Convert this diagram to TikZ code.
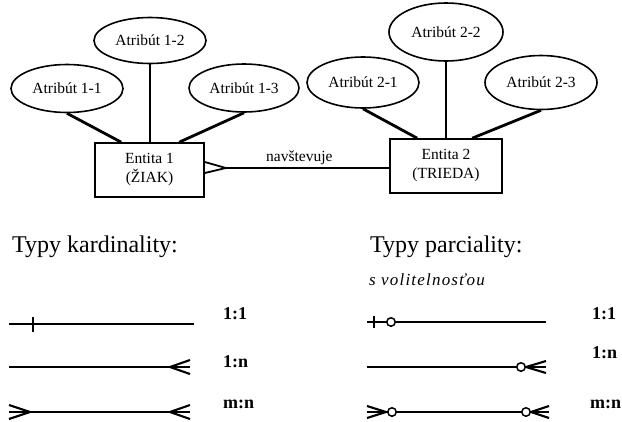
\documentclass[tikz,border=0pt]{standalone}
\usepackage{fontspec}
\setmainfont{Liberation Serif}
\usetikzlibrary{calc,shapes.geometric}
\begin{document}
\begin{tikzpicture}[x=1pt,y=-1pt,
  attr/.style={draw, ellipse, line width=1.6pt, minimum width=112pt, minimum height=48pt, inner sep=0pt, font=\fontsize{15.5}{15.5}\selectfont},
  ent/.style={draw, rectangle, line width=1.6pt, minimum width=109pt, minimum height=54pt, inner sep=0pt, align=center, font=\fontsize{15.5}{19}\selectfont},
  link/.style={line width=2.8pt},
  rel/.style={line width=1.8pt},
  leg/.style={line width=2.1pt},
  circ/.style={circle, draw, fill=white, line width=1.5pt, minimum size=8.5pt, inner sep=0pt},
  head/.style={anchor=base west, inner sep=0pt, font=\fontsize{24}{24}\selectfont},
  lbl/.style={anchor=base west, inner sep=0pt, font=\fontsize{18}{18}\selectfont\bfseries}]
\useasboundingbox (0,0) rectangle (622,421);

% entities
\node[ent] (e1) at (149.5,170) {Entita 1\\(ŽIAK)};
\node[ent, minimum width=112pt] (e2) at (446,166) {Entita 2\\(TRIEDA)};

% attributes
\node[attr] (a11) at (67,88.5) {Atribút 1-1};
\node[attr, minimum height=46pt] (a12) at (150,40.5) {Atribút 1-2};
\node[attr, minimum width=110pt] (a13) at (244,88) {Atribút 1-3};
\node[attr, minimum height=51pt] (a21) at (363,82.5) {Atribút 2-1};
\node[attr, minimum width=114pt, minimum height=58pt] (a22) at (446,32) {Atribút 2-2};
\node[attr, minimum height=54pt] (a23) at (541,82.5) {Atribút 2-3};

\draw[link] (a11.south) -- ($(e1.north west)+(27,0)$);
\draw[link] (a12.south) -- (e1.north -| a12.south);
\draw[link] (a13.south) -- ($(e1.north west)+(85,0)$);
\draw[link] (a21.south) -- ($(e2.north west)+(28,0)$);
\draw[link] (a22.south) -- (e2.north -| a22.south);
\draw[link] (a23.south) -- ($(e2.north west)+(83,0)$);

% relationship
\coordinate (ce) at ($(e1.east)+(0,-2)$);
\coordinate (cf) at ($(ce)+(21,0)$);
\draw[rel] (cf) -- (e2.west |- cf) node[pos=0.45, above=1pt, font=\fontsize{15.5}{15.5}\selectfont, inner sep=1pt] (nav) {navštevuje};
\draw[rel] ($(ce)+(0,-6)$) -- (cf) -- ($(ce)+(0,5)$);

% headings
\node[head] (h1) at (12,252) {Typy kardinality:};
\node[head] (h2) at (370,252) {Typy parciality:};
\node[anchor=base west, inner sep=0pt, font=\fontsize{17}{17}\selectfont\itshape\addfontfeature{LetterSpace=7}] (sv) at (369,285) {s volitelnosťou};

% legend left
\draw[leg] (9,324) -- (194,324);
\draw[leg] (33,317) -- (33,332);
\draw[leg] (9,367) -- (190,367);
\draw[leg] (190,360) -- (170,367) -- (190,374);
\draw[leg] (9,412) -- (190,412);
\draw[leg] (9,405) -- (30,412) -- (9,419);
\draw[leg] (190,405) -- (170,412) -- (190,419);

\node[lbl] (l11) at (223,319) {1:1};
\node[lbl] (l1n) at (223,367) {1:n};
\node[lbl] (lmn) at (223,408) {m:n};

% legend right
\draw[leg] (367,322) -- (546,322);
\draw[leg] (374,316) -- (374,328);
\node[circ] (c1) at (391,322) {};
\draw[leg] (367,367) -- (546,367);
\draw[leg] (546,361) -- (526,367) -- (546,373);
\node[circ] (c2) at (521,367) {};
\draw[leg] (367,412) -- (549,412);
\draw[leg] (367,406) -- (386,412) -- (367,418);
\node[circ] (c3) at (392,412) {};
\draw[leg] (549,406) -- (531,412) -- (549,418);
\node[circ] (c4) at (526,412) {};

\node[lbl] (r11) at (592,319) {1:1};
\node[lbl] (r1n) at (592,358) {1:n};
\node[lbl] (rmn) at (590,408) {m:n};
\end{tikzpicture}
\end{document}
